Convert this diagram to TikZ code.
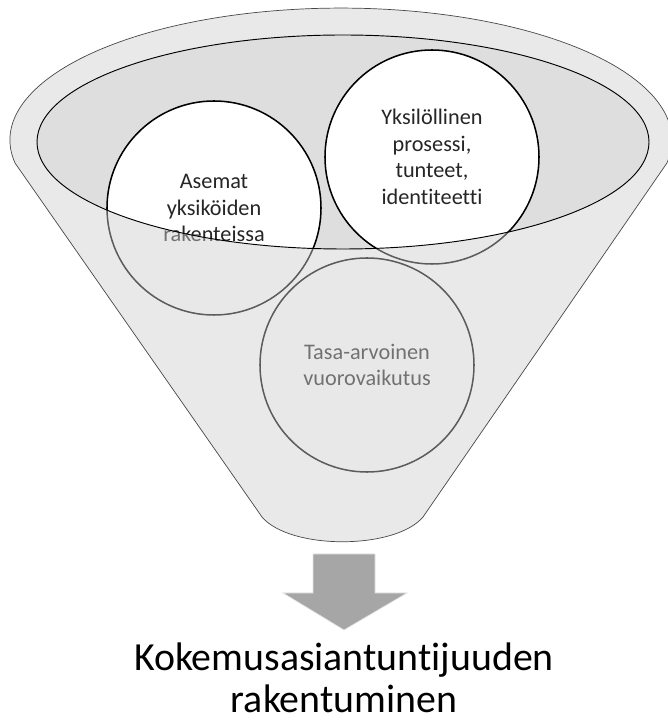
\documentclass[tikz,border=0pt]{standalone}
\usepackage{fontspec}
\setmainfont{Carlito}[Ligatures=NoCommon]

\definecolor{bowlgray}{RGB}{222,222,222}
\definecolor{frontgray}{RGB}{206,206,206}
\definecolor{edgegray}{RGB}{72,72,72}
\definecolor{arrowgray}{RGB}{166,166,166}

% outline of the funnel: top rim arc, two sides, rounded bottom
\newcommand{\funnelshape}{(15,561) arc[start angle=190, end angle=-10, x radius=331, y radius=132]
  -- (423,207) .. controls (395,174) and (290,174) .. (262,207) -- cycle}

\begin{document}
\begin{tikzpicture}[x=0.03cm, y=0.03cm,
  bubble/.style={circle, draw=black, line width=1.3pt, fill=white, minimum size=6.42cm,
    inner sep=0pt, align=center, text=black!85, font=\fontsize{19}{22.6}\selectfont},
  result/.style={align=center, text=black, inner sep=0pt, text depth=0pt,
    font=\fontsize{34}{35.7}\selectfont}]

\useasboundingbox (0,0) rectangle (667,724);

% ---- back of the funnel ---------------------------------------------------------
\coordinate (bowl) at (343,582);
\fill[bowlgray] (bowl) ellipse[x radius=306, y radius=107];

% ---- the three circles ----------------------------------------------------------
\node[bubble] (asemat) at (214,516) {Asemat\\yksiköiden\\rakenteissa};
\node[bubble] (yksilo) at (432,567) {Yksilöllinen\\prosessi,\\tunteet,\\identiteetti};
\node[bubble] (tasa)   at (367,359) {Tasa-arvoinen\\vuorovaikutus};

% ---- front of the funnel, over the circles --------------------------------------
\fill[frontgray, fill opacity=0.45, even odd rule] \funnelshape
  (bowl) ellipse[x radius=306, y radius=107];
\draw[edgegray, line width=0.6pt] \funnelshape;
\draw[black, line width=0.8pt] (bowl) ellipse[x radius=306, y radius=107];

% ---- the arrow and the result ---------------------------------------------------
\coordinate (tip) at (344,94);
\filldraw[fill=arrowgray, draw=gray!20, line width=0.6pt]
  (313,170) -- (375,170) -- (375,131) -- (407,131) -- (tip) -- (283,131) -- (313,131) -- cycle;
\node[result, anchor=south] (kokemus) at (344,11) {Kokemusasiantuntijuuden\\rakentuminen};

\end{tikzpicture}
\end{document}
